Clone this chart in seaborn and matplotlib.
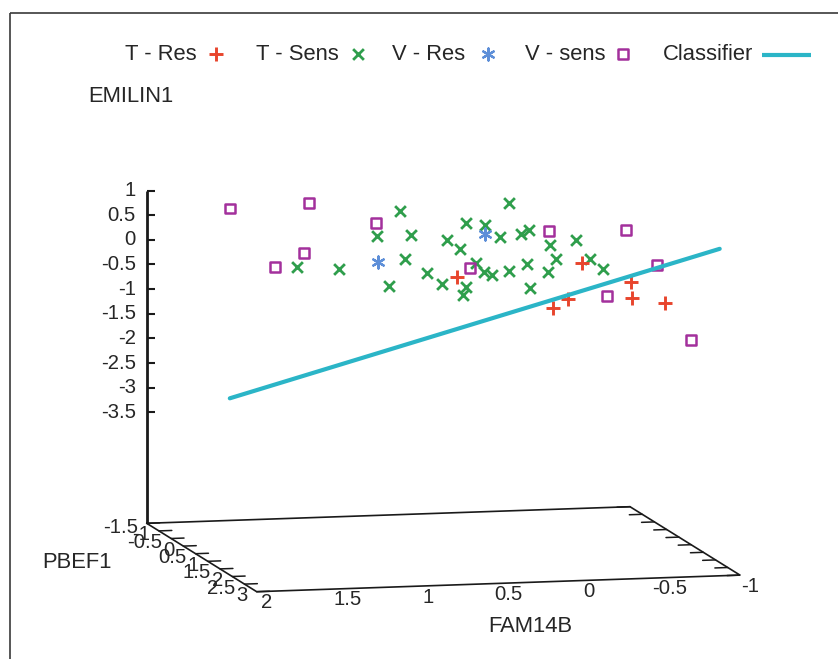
import matplotlib
matplotlib.use("Agg")
import matplotlib.pyplot as plt
import seaborn as sns
import numpy as np
import pandas as pd

# ---------------- data ----------------
series_names = ["T - Res", "T - Sens", "V - Res", "V - sens", "Classifier"]

tres_fam = [0.53, -0.25, -0.55, -0.56, -0.76, -0.16, -0.07]
tres_pbef = [1.5, 1.5, 1.5, 1.5, 1.5, 1.5, 1.5]
tres_emi = [0.01, 0.20, -0.21, -0.55, -0.66, -0.52, -0.70]

tsens_fam = [1.22, 0.96, 0.72, 0.65, 0.58, 0.51, 0.55, 0.41, 0.32, 0.29, 0.21,
             0.17, 0.05, -0.04, -0.17, -0.22, -0.10, 0.17, 0.19, 0.11, 0.06,
             0.01, -0.10, -0.21, -0.23, -0.34, -0.35, -0.39, -0.51, -0.60, -0.68]
tsens_pbef = [-0.5, -0.5, -0.5, -0.5, -0.5, -0.5, -0.5, -0.5, -0.5, -0.5, -0.5,
              -0.5, -0.5, -0.5, -0.5, -0.5, -0.5, -0.5, -0.5, -0.5, -0.5,
              -0.5, -0.5, -0.5, -0.5, -0.5, -0.5, -0.5, -0.5, -0.5, -0.5]
tsens_emi = [-0.34, -0.39, 0.24, -0.78, 0.74, 0.24, -0.25, -0.55, -0.78, 0.11, -0.07,
             0.45, 0.39, 0.13, 0.19, 0.25, 0.82, -0.85, -1.02, -0.38, -0.56,
             -0.63, -0.56, -0.42, -0.91, -0.61, -0.07, -0.34, 0.02, -0.38, -0.58]

vres_fam = [0.79, 0.13]
vres_pbef = [0.0, 0.0]
vres_emi = [-0.12, 0.37]

vsens_fam = [1.56, 1.07, 1.28, 1.10, 0.65, 0.07, -0.42, -0.90, -0.79, -0.78, -0.85]
vsens_pbef = [-1.0, -1.0, -1.0, -1.0, -1.0, -1.0, -1.0, -1.0, 1.0, -1.0, 2.0]
vsens_emi = [0.74, 0.80, -0.48, -0.22, 0.35, -0.64, 0.07, 0.03, -0.05, -1.29, -1.27]

clf_fam = [1.56, -0.95]
clf_pbef = [-1.0, 2.5]
clf_emi = [-3.11, 0.72]

fam_ticks = [2, 1.5, 1, 0.5, 0, -0.5, -1]
fam_tick_labels = ["2", "1.5", "1", "0.5", "0", "-0.5", "-1"]
pbef_ticks = [-1.5, -1, -0.5, 0, 0.5, 1, 1.5, 2, 2.5, 3]
pbef_tick_labels = ["-1.5", "-1", "-0.5", "0", "0.5", "1", "1.5", "2", "2.5", "3"]
emi_ticks = [1, 0.5, 0, -0.5, -1, -1.5, -2, -2.5, -3, -3.5]
emi_tick_labels = ["1", "0.5", "0", "-0.5", "-1", "-1.5", "-2", "-2.5", "-3", "-3.5"]

# ---------------- styling ----------------
RED = "#e8452c"
GREEN = "#2f9e4c"
BLUE = "#5e8fd8"
PURPLE = "#a3309c"
CYAN = "#2bb5c7"
INK = "#1a1a1a"
TXT = "#262626"
FS_LAB = 15.8
FS_TICK = 14.6

sns.set_theme(style="white")
plt.rcParams["font.family"] = ["Liberation Sans", "DejaVu Sans"]

W, H = 838, 659
fig = plt.figure(figsize=(W / 100, H / 100), dpi=100)
ax = fig.add_axes([0, 0, 1, 1])
ax.set_xlim(0, W)
ax.set_ylim(H, 0)
ax.axis("off")

# ---------------- 3D view (gnuplot-like orthographic projection) ----------------
FAM_MAX, FAM_MIN = 2.0, -1.0
PB_MIN, PB_MAX = -1.5, 3.0
Z_MIN, Z_MAX = -3.5, 1.0
Z_BASE = Z_MIN - 0.5 * (Z_MAX - Z_MIN)   # ticslevel 0.5
ORIG = np.array([146.7, 523.3])          # (FAM=2, PBEF1=-1.5, z=base)
E_FAM = np.array([-161.1, 5.53])         # screen shift per +1 FAM14B
E_PB = np.array([24.44, 15.2])           # screen shift per +1 PBEF1
E_Z = np.array([0.0, -49.3])             # screen shift per +1 EMILIN1


def proj(f, p, z):
    f = np.asarray(f, float); p = np.asarray(p, float); z = np.asarray(z, float)
    xy = (ORIG[:, None]
          + E_FAM[:, None] * (f - FAM_MAX)
          + E_PB[:, None] * (p - PB_MIN)
          + E_Z[:, None] * (z - Z_BASE))
    return xy[0], xy[1]


# figure frame
ax.plot([10, 10], [H, 12.7], color="#3a3a3a", lw=1.2, solid_capstyle="butt")
ax.plot([10, W], [12.7, 12.7], color="#3a3a3a", lw=1.2, solid_capstyle="butt")

# base parallelogram
cf = [FAM_MAX, FAM_MIN, FAM_MIN, FAM_MAX, FAM_MAX]
cp = [PB_MIN, PB_MIN, PB_MAX, PB_MAX, PB_MIN]
bx, by = proj(cf, cp, [Z_BASE] * 5)
ax.plot(bx, by, color=INK, lw=1.2, solid_joinstyle="miter")

# z axis
zx, zy = proj([FAM_MAX, FAM_MAX], [PB_MIN, PB_MIN], [Z_BASE, Z_MAX])
ax.plot(zx, zy, color=INK, lw=2.0, solid_capstyle="butt")
tx, ty = proj([FAM_MAX] * len(emi_ticks), [PB_MIN] * len(emi_ticks), emi_ticks)
for x0, y0, lab in zip(tx, ty, emi_tick_labels):
    ax.plot([x0, x0 + 8], [y0, y0], color=INK, lw=1.5, solid_capstyle="butt")
    ax.text(x0 - 11, y0, lab, ha="right", va="center", fontsize=FS_TICK, color=TXT)

# PBEF1 ticks (left edge and mirrored on right edge)
n = len(pbef_ticks)
lx, ly = proj([FAM_MAX] * n, pbef_ticks, [Z_BASE] * n)
rx, ry = proj([FAM_MIN] * n, pbef_ticks, [Z_BASE] * n)
tick_len = 0.08
lx2, ly2 = proj([FAM_MAX - tick_len] * n, pbef_ticks, [Z_BASE] * n)
rx2, ry2 = proj([FAM_MIN + tick_len] * n, pbef_ticks, [Z_BASE] * n)
for i in range(n):
    ax.plot([lx[i], lx2[i]], [ly[i], ly2[i]], color=INK, lw=1.1)
    ax.plot([rx[i], rx2[i]], [ry[i], ry2[i]], color=INK, lw=1.1)
    ax.text(lx[i] - 9, ly[i] + 4, pbef_tick_labels[i], ha="right", va="center",
            fontsize=FS_TICK, color=TXT)

# FAM14B tick labels on front edge
m = len(fam_ticks)
fx, fy = proj(fam_ticks, [PB_MAX] * m, [Z_BASE] * m)
for x0, y0, lab in zip(fx, fy, fam_tick_labels):
    ax.text(x0 + 10, y0 + 11, lab, ha="center", va="center", fontsize=FS_TICK, color=TXT)

# axis labels
ax.text(88, 97, "EMILIN1", ha="left", va="center", fontsize=FS_LAB, color=TXT)
ax.text(42, 562, "PBEF1", ha="left", va="center", fontsize=FS_LAB, color=TXT)
ax.text(530, 627, "FAM14B", ha="center", va="center", fontsize=FS_LAB, color=TXT)

# ---------------- data marks ----------------
cx, cy = proj(clf_fam, clf_pbef, clf_emi)
sns.lineplot(x=cx, y=cy, sort=False, estimator=None, color=CYAN, linewidth=3.0, ax=ax)

x, y = proj(tsens_fam, tsens_pbef, tsens_emi)
sns.scatterplot(x=x, y=y, marker="x", s=60, color=GREEN, linewidth=2.0, ax=ax)

x, y = proj(vsens_fam, vsens_pbef, vsens_emi)
sns.scatterplot(x=x, y=y, marker="s", s=50, color=PURPLE, facecolor="none",
                edgecolor=PURPLE, linewidth=1.8, ax=ax)

x, y = proj(vres_fam, vres_pbef, vres_emi)
sns.scatterplot(x=x, y=y, marker=(6, 2, 0), s=75, color=BLUE, linewidth=1.6, ax=ax)

x, y = proj(tres_fam, tres_pbef, tres_emi)
sns.scatterplot(x=x, y=y, marker="+", s=90, color=RED, linewidth=2.1, ax=ax)

# ---------------- legend (gnuplot style: text then sample) ----------------
LY = 54
ax.text(196.7, LY, series_names[0], ha="right", va="center", fontsize=FS_LAB, color=TXT)
ax.scatter([216], [LY], marker="+", s=90, color=RED, linewidths=2.1)
ax.text(338.3, LY, series_names[1], ha="right", va="center", fontsize=FS_LAB, color=TXT)
ax.scatter([358.3], [LY], marker="x", s=60, color=GREEN, linewidths=2.0)
ax.text(465, LY, series_names[2], ha="right", va="center", fontsize=FS_LAB, color=TXT)
ax.scatter([488.3], [LY], marker=(6, 2, 0), s=75, color=BLUE, linewidths=1.6)
ax.text(605, LY, series_names[3], ha="right", va="center", fontsize=FS_LAB, color=TXT)
ax.scatter([623.3], [LY], marker="s", s=50, facecolors="none", edgecolors=PURPLE,
           linewidths=1.8)
ax.text(753.3, LY, series_names[4], ha="right", va="center", fontsize=FS_LAB, color=TXT)
ax.plot([762, 811], [LY + 1, LY + 1], color=CYAN, lw=3.0, solid_capstyle="butt")

fig.savefig("out.png", dpi=100)
